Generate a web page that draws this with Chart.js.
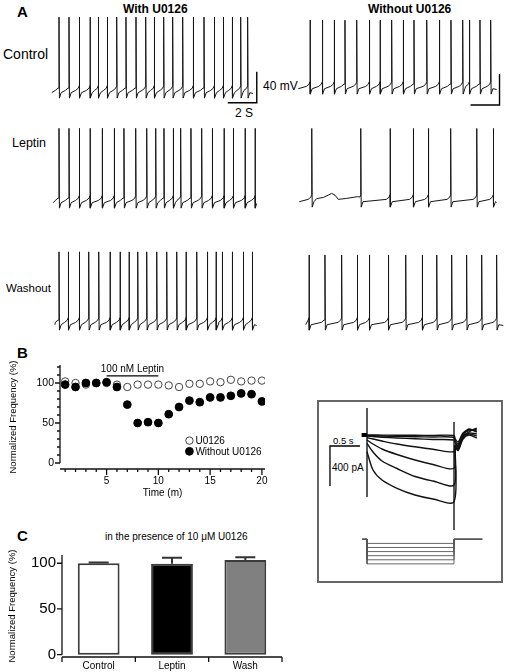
<!DOCTYPE html>
<html>
<head>
<meta charset="utf-8">
<script src="https://cdn.jsdelivr.net/npm/chart.js@4.4.0/dist/chart.umd.min.js"></script>
<style>
  body { margin: 0; background: #fff; }
  #fig { position: relative; width: 510px; height: 672px; overflow: hidden;
         font-family: "Liberation Sans", Arial, Helvetica, sans-serif; color: #000; }
  #fig canvas { position: absolute; }
  .lbl { position: absolute; white-space: nowrap; line-height: 1; }
  .panel { font-weight: bold; font-size: 15px; }
  .head { font-weight: bold; font-size: 12px; }
  #inset { position: absolute; left: 317px; top: 400px; width: 186px; height: 183px;
           box-sizing: border-box; border: 2px solid #666; }
</style>
</head>
<body>
<div id="fig">
  <div class="lbl panel" style="left:17px;top:4px">A</div>
  <div class="lbl head" style="left:123px;top:3px">With U0126</div>
  <div class="lbl head" style="left:368px;top:3px">Without U0126</div>
  <div class="lbl" style="left:3px;top:47px;font-size:14px">Control</div>
  <div class="lbl" style="left:12px;top:137px;font-size:12.5px">Leptin</div>
  <div class="lbl" style="left:6px;top:283px;font-size:11.5px">Washout</div>
  <div class="lbl" style="left:263px;top:80px;font-size:12px">40 mV</div>
  <div class="lbl" style="left:235px;top:107px;font-size:12px">2 S</div>
  <div class="lbl panel" style="left:17px;top:345px">B</div>
  <div class="lbl panel" style="left:17px;top:528px">C</div>
  <div class="lbl" style="left:105px;top:532px;font-size:10px">in the presence of 10 μM U0126</div>
  <div id="inset"></div>
  <div class="lbl" style="left:333px;top:436px;font-size:9.5px">0.5 s</div>
  <div class="lbl" style="left:332px;top:463px;font-size:10px">400 pA</div>
</div>

<script>
// ---------- données panneau A : temps des potentiels d'action (s) ----------
const ctrlWithSpikes = [0.62, 1.31, 2.02, 2.76, 3.33, 3.95, 4.60, 5.24, 5.93, 6.60, 7.19, 7.84, 8.46, 9.15, 9.88, 10.62, 11.33, 11.95, 12.57, 13.15, 13.63];
const ctrlWithoutSpikes = [2.07, 2.92, 3.74, 4.48, 5.29, 6.16, 6.90, 7.70, 8.50, 9.24, 10.12, 10.99, 11.79, 12.60, 13.06, 13.79, 14.53];
const lepWithSpikes = [0.62, 1.31, 2.02, 2.76, 3.60, 4.43, 5.10, 5.91, 6.67, 7.29, 7.86, 8.50, 9.01, 9.72, 10.46, 11.19, 12.00, 12.64, 13.45, 14.14];
const lepWithoutSpikes = [2.19, 5.57, 7.59, 9.19, 10.23, 11.77, 13.57, 14.71];
const washWithSpikes = [0.62, 1.26, 2.02, 2.67, 3.36, 4.14, 4.83, 5.45, 6.05, 6.67, 7.36, 8.05, 8.74, 9.38, 10.12, 10.85, 11.45, 11.88, 12.57, 13.33, 13.95];
const washWithoutSpikes = [2.00, 3.10, 4.25, 5.33, 6.16, 7.47, 8.67, 9.81, 10.81, 11.84, 12.87, 13.91, 14.94];

// début / fin de chaque trace (s) et pic des spikes (mV)
const traceStart = [0.12, 1.26, 0.23, 1.33, 0.34, 1.77];
const traceEnd = [14.0, 14.94, 14.25, 14.94, 14.25, 15.4];
const tracePeak = [34.5, 25.5, 33, 31.5, 31, 27];

// forme entre deux spikes (mV)
const thrMv = -54;
const afterSpike = [[0.03, -70], [0.15, -63]];
const beforeSpike = [[-0.25, -60], [-0.06, -57]];
// petite bosse dans le premier intervalle de "Leptin / Without U0126"
const lepWithoutBump = [[2.53, -59], [2.99, -57.5], [3.33, -54.5], [3.56, -52.3], [3.79, -54.5], [4.02, -60], [4.6, -58.7], [5.35, -56.5]];

// barres d'échelle : 2 s / 40 mV
const scaleSec = 2;
const scaleMv = 40;
const scaleBarCorner = [[14.26, -75.9], [15.14, -84]];

// ---------- données panneau B ----------
const timeB = [1, 2, 3, 4, 5, 6, 7, 8, 9, 10, 11, 12, 13, 14, 15, 16, 17, 18, 19, 20];
const freqU0126 = [102, 100, 98, 100, 100, 98, 95, 98, 98, 98, 97, 95, 99, 99, 102, 101, 104, 102, 103, 103];
const freqWithout = [98, 95, 100, 100, 101, 95, 73, 50, 51, 50, 61, 70, 78, 76, 82, 82, 84, 87, 86, 77];
const yTicksB = [0, 10, 20, 30, 40, 50, 60, 70, 80, 90, 100, 110, 120];
const leptinSpan = [5, 10];
const leptinLevel = 109;

// ---------- données panneau C ----------
const groupsC = ['Control', 'Leptin', 'Wash'];
const meanC = [100, 99.5, 103.5];
const semC = [0.8, 6.5, 3];
const yTicksC = [0, 50, 100];

// ---------- encart : courants (pA) ----------
const stepT = [0, 0.1, 0.25, 0.5, 0.8, 1.1, 1.45];
const stepCurrents = [
  [0, 0, -1, -2, -3, -4, -5],
  [-5, -8, -10, -14, -17, -20, -23],
  [-10, -15, -22, -30, -38, -45, -50],
  [-27, -40, -60, -90, -118, -143, -167],
  [-50, -90, -140, -195, -250, -295, -333],
  [-83, -170, -260, -335, -415, -460, -500],
  [-167, -350, -450, -533, -600, -640, -667]
];
const tailT = [1.47, 1.52, 1.6, 1.7, 1.83];
const tailCurrents = [
  [-40, -70, 20, 50, 40],
  [-60, -90, 10, 45, 60],
  [-80, -105, 0, 60, 30],
  [-100, -120, -10, 30, 70],
  [-110, -135, -20, 20, 10],
  [-120, -145, -30, 10, -10],
  [-130, -155, -40, 0, -30]
];
const holdingT = [-0.09, 0];
const transients = [[0, 270], [0, -620], [0.7, null], [1.45, 130], [1.45, -950]];
const stepDuration = 1.45;
const protocolT = [-0.08, 1.92];
const holdingMv = -60;
const stepMv = [-70, -80, -90, -100, -110, -120];
const insetScaleCorner = [-0.617, -110];
const insetScaleSec = 0.5;
const insetScalePa = 400;

// -------------------------------------------------------------
Chart.defaults.font.family = '"Liberation Sans", Arial, Helvetica, sans-serif';
Chart.defaults.color = '#000';

function makeCanvas(left, top, w, h) {
  let c = document.createElement("canvas");
  c.width = w; c.height = h;
  c.style.left = left + "px"; c.style.top = top + "px";
  document.getElementById("fig").appendChild(c);
  return c;
}

const noUi = { legend: { display: false }, tooltip: { enabled: false } };

// construction d'une trace à partir des temps des spikes
function buildTrace(spikes, start, end, peak, extra) {
  let pts = [{ x: start, y: -63 }];
  function add(x, y) {
    if (x >= pts[pts.length - 1].x && x <= end) pts.push({ x: x, y: y });
  }
  beforeSpike.forEach(p => add(spikes[0] + p[0], p[1]));
  spikes.forEach((t, i) => {
    add(t, thrMv);
    add(t, peak);
    let next = i + 1 < spikes.length ? spikes[i + 1] : null;
    afterSpike.forEach(p => add(t + p[0], p[1]));
    if (next !== null) beforeSpike.forEach(p => add(next + p[0], p[1]));
  });
  if (pts[pts.length - 1].x < end) pts.push({ x: end, y: -64 });
  if (extra) {
    let lo = extra[0][0], hi = extra[extra.length - 1][0];
    pts = pts.filter(p => p.x < lo || p.x > hi);
    extra.forEach(p => pts.push({ x: p[0], y: p[1] }));
    pts.sort((a, b) => a.x - b.x);
  }
  return pts;
}

// ------------------ Panneau A ------------------
const allSpikes = [ctrlWithSpikes, ctrlWithoutSpikes, lepWithSpikes, lepWithoutSpikes, washWithSpikes, washWithoutSpikes];
const traceBox = [[50, 9], [280, 5], [50, 119], [280, 118], [50, 241], [280, 241]];
const pxPerSec = 14.5, pxPerMv = 0.775, traceW = 225, traceH = 104;

allSpikes.forEach((spikes, k) => {
  let datasets = [{
    data: buildTrace(spikes, traceStart[k], traceEnd[k], tracePeak[k], k === 3 ? lepWithoutBump : null),
    borderColor: '#151515', borderWidth: 1, pointRadius: 0, tension: 0, clip: false
  }];
  if (k < 2) {
    let c = scaleBarCorner[k];
    datasets.push({
      data: [{ x: c[0] - scaleSec, y: c[1] }, { x: c[0], y: c[1] }, { x: c[0], y: c[1] + scaleMv }],
      borderColor: '#000', borderWidth: 1.4, pointRadius: 0, clip: false
    });
  }
  new Chart(makeCanvas(traceBox[k][0], traceBox[k][1], traceW, traceH), {
    type: 'line',
    data: { datasets: datasets },
    options: {
      responsive: false, animation: false, events: [],
      layout: { padding: 0 },
      plugins: noUi,
      scales: {
        x: { type: 'linear', display: false, min: 0, max: traceW / pxPerSec },
        y: { display: false, min: 45 - traceH / pxPerMv, max: 45 }
      }
    }
  });
});

// ------------------ axes style Prism ------------------
const prismAxes = {
  id: 'prismAxes',
  afterDraw(chart, args, opts) {
    const ctx = chart.ctx, a = chart.chartArea, xs = chart.scales.x, ys = chart.scales.y;
    ctx.save();
    ctx.strokeStyle = '#111';
    ctx.lineWidth = 1.3;
    ctx.beginPath();
    ctx.moveTo(a.left, ys.getPixelForValue(opts.yFrom));
    ctx.lineTo(a.left, a.top);
    ys.ticks.forEach(t => {
      let p = ys.getPixelForValue(t.value);
      let len = t.value % opts.yMajor === 0 ? 5 : 3;
      ctx.moveTo(a.left - len, p); ctx.lineTo(a.left, p);
    });
    ctx.moveTo(a.left, a.bottom);
    ctx.lineTo(a.right, a.bottom);
    if (opts.categoryTicks) {
      let n = xs.ticks.length;
      for (let i = 0; i <= n; i++) {
        let p = a.left + (a.right - a.left) * i / n;
        ctx.moveTo(p, a.bottom); ctx.lineTo(p, a.bottom + 5);
      }
    } else {
      xs.ticks.forEach(t => {
        let p = xs.getPixelForValue(t.value);
        let len = t.value % opts.xMajor === 0 ? 6 : 3;
        ctx.moveTo(p, a.bottom); ctx.lineTo(p, a.bottom + len);
      });
    }
    ctx.stroke();
    ctx.restore();
  }
};

// ------------------ Panneau B ------------------
const bAnnot = {
  id: 'bAnnot',
  afterDraw(chart, args, opts) {
    const ctx = chart.ctx, xs = chart.scales.x, ys = chart.scales.y;
    ctx.save();
    ctx.font = '10px "Liberation Sans", Arial, sans-serif';
    ctx.fillStyle = '#000';
    ctx.textAlign = 'center';
    ctx.textBaseline = 'bottom';
    ctx.fillText(opts.leptinText, xs.getPixelForValue((leptinSpan[0] + leptinSpan[1]) / 2), ys.getPixelForValue(leptinLevel) - 2);
    ctx.textAlign = 'left';
    ctx.textBaseline = 'middle';
    opts.items.forEach(it => {
      let ds = chart.data.datasets[it.ds];
      let px = xs.getPixelForValue(opts.x), py = ys.getPixelForValue(it.y);
      ctx.beginPath();
      ctx.arc(px, py, ds.pointRadius, 0, 2 * Math.PI);
      ctx.fillStyle = ds.backgroundColor; ctx.fill();
      ctx.lineWidth = ds.borderWidth; ctx.strokeStyle = ds.borderColor; ctx.stroke();
      ctx.fillStyle = '#000';
      ctx.fillText(ds.label, px + 6, py + 0.5);
    });
    ctx.restore();
  }
};

new Chart(makeCanvas(0, 345, 280, 165), {
  type: 'scatter',
  data: {
    datasets: [
      { label: 'Without U0126', data: timeB.map((t, i) => ({ x: t, y: freqWithout[i] })),
        pointRadius: 3.9, backgroundColor: '#000', borderColor: '#000', borderWidth: 1 },
      { label: 'U0126', data: timeB.map((t, i) => ({ x: t, y: freqU0126[i] })),
        pointRadius: 3.7, backgroundColor: '#fff', borderColor: '#444', borderWidth: 1 },
      { label: 'Leptin', type: 'line', showLine: true, data: leptinSpan.map(x => ({ x: x, y: leptinLevel })),
        borderColor: '#000', borderWidth: 1.2, pointRadius: 0 }
    ]
  },
  options: {
    responsive: false, animation: false, events: [],
    layout: { padding: { top: 20, right: 15, left: 0, bottom: 0 } },
    plugins: {
      legend: { display: false }, tooltip: { enabled: false },
      prismAxes: { yFrom: 0, yMajor: 50, xMajor: 5 },
      bAnnot: { leptinText: '100 nM Leptin', x: 13.0, items: [{ ds: 1, y: 28 }, { ds: 0, y: 14.6 }] }
    },
    scales: {
      x: {
        type: 'linear', min: 0.5, max: 20.3,
        grid: { display: false, drawTicks: false }, border: { display: false },
        afterBuildTicks: s => { s.ticks = timeB.map(v => ({ value: v })); },
        ticks: { autoSkip: false, maxRotation: 0, padding: 6, font: { size: 10 },
                 callback: v => (v % 5 === 0 ? v : '') },
        title: { display: true, text: 'Time (m)', font: { size: 10 }, padding: { top: 0, bottom: 11 } },
        afterFit: s => { s.height = 41; }
      },
      y: {
        min: -7.5, max: 122.5,
        grid: { display: false, drawTicks: false }, border: { display: false },
        afterBuildTicks: s => { s.ticks = yTicksB.map(v => ({ value: v })); },
        ticks: { autoSkip: false, padding: 6, font: { size: 10.5 },
                 callback: v => (v % 50 === 0 ? v : '') },
        title: { display: true, text: 'Normalized Frequency (%)', font: { size: 9.5 }, padding: { top: 8, bottom: 0 } },
        afterFit: s => { s.width = 60; }
      }
    }
  },
  plugins: [prismAxes, bAnnot]
});

// ------------------ Panneau C ------------------
const errorBars = {
  id: 'errorBars',
  afterDatasetsDraw(chart, args, opts) {
    const ctx = chart.ctx, ys = chart.scales.y, meta = chart.getDatasetMeta(0);
    ctx.save();
    ctx.strokeStyle = '#333';
    ctx.lineWidth = 2;
    meta.data.forEach((bar, i) => {
      let top = ys.getPixelForValue(meanC[i] + semC[i]);
      ctx.beginPath();
      ctx.moveTo(bar.x, bar.y); ctx.lineTo(bar.x, top);
      ctx.moveTo(bar.x - opts.cap, top); ctx.lineTo(bar.x + opts.cap, top);
      ctx.stroke();
    });
    ctx.restore();
  }
};

new Chart(makeCanvas(0, 540, 290, 132), {
  type: 'bar',
  data: {
    labels: groupsC,
    datasets: [{
      data: meanC,
      backgroundColor: ['#ffffff', '#000000', '#808080'],
      borderColor: '#3c3c3c', borderWidth: 2, borderSkipped: false,
      barPercentage: 0.57, categoryPercentage: 1
    }]
  },
  options: {
    responsive: false, animation: false, events: [],
    layout: { padding: { top: 6, right: 8, left: 0, bottom: 0 } },
    plugins: {
      legend: { display: false }, tooltip: { enabled: false },
      prismAxes: { yFrom: 0, yMajor: 50, categoryTicks: true },
      errorBars: { cap: 10 }
    },
    scales: {
      x: {
        grid: { display: false, drawTicks: false }, border: { display: false },
        ticks: { padding: 3, font: { size: 10 } },
        afterFit: s => { s.height = 15; }
      },
      y: {
        min: -2.5, max: 109,
        grid: { display: false, drawTicks: false }, border: { display: false },
        afterBuildTicks: s => { s.ticks = yTicksC.map(v => ({ value: v })); },
        ticks: { padding: 6, font: { size: 15 } },
        title: { display: true, text: 'Normalized Frequency (%)', font: { size: 9.5 }, padding: { top: 7, bottom: 0 } },
        afterFit: s => { s.width = 62; }
      }
    }
  },
  plugins: [prismAxes, errorBars]
});

// ------------------ Encart : courants ------------------
let insetSets = [];
stepCurrents.forEach((vals, k) => {
  let pts = stepT.map((t, i) => ({ x: t, y: vals[i] }));
  tailT.forEach((t, i) => pts.push({ x: t, y: tailCurrents[k][i] }));
  insetSets.push({ data: pts, borderColor: '#111', borderWidth: 1.4, pointRadius: 0, tension: 0.3, yAxisID: 'y' });
});
insetSets.push({ data: holdingT.map(t => ({ x: t, y: 0 })), borderColor: '#000', borderWidth: 4, pointRadius: 0, yAxisID: 'y' });
insetSets.push({ data: transients.map(p => ({ x: p[0], y: p[1] })), borderColor: '#444', borderWidth: 1, pointRadius: 0, spanGaps: false, yAxisID: 'y' });
insetSets.push({
  data: [{ x: insetScaleCorner[0] + insetScaleSec, y: insetScaleCorner[1] },
         { x: insetScaleCorner[0], y: insetScaleCorner[1] },
         { x: insetScaleCorner[0], y: insetScaleCorner[1] - insetScalePa }],
  borderColor: '#000', borderWidth: 1.3, pointRadius: 0, yAxisID: 'y'
});
stepMv.forEach(v => {
  insetSets.push({
    data: [{ x: protocolT[0], y: holdingMv }, { x: 0, y: holdingMv }, { x: 0, y: v },
           { x: stepDuration, y: v }, { x: stepDuration, y: holdingMv }, { x: protocolT[1], y: holdingMv }],
    borderColor: '#555', borderWidth: 0.9, pointRadius: 0, yAxisID: 'yV'
  });
});

new Chart(makeCanvas(319, 402, 182, 178), {
  type: 'line',
  data: { datasets: insetSets },
  options: {
    responsive: false, animation: false, events: [],
    layout: { padding: 0 },
    plugins: noUi,
    scales: {
      x: { type: 'linear', display: false, min: -0.8, max: -0.8 + 182 / 60 },
      y: { display: false, min: -1450, max: 330 },
      yV: { display: false, min: -159.3, max: 274.9 }
    }
  }
});
</script>
</body>
</html>
